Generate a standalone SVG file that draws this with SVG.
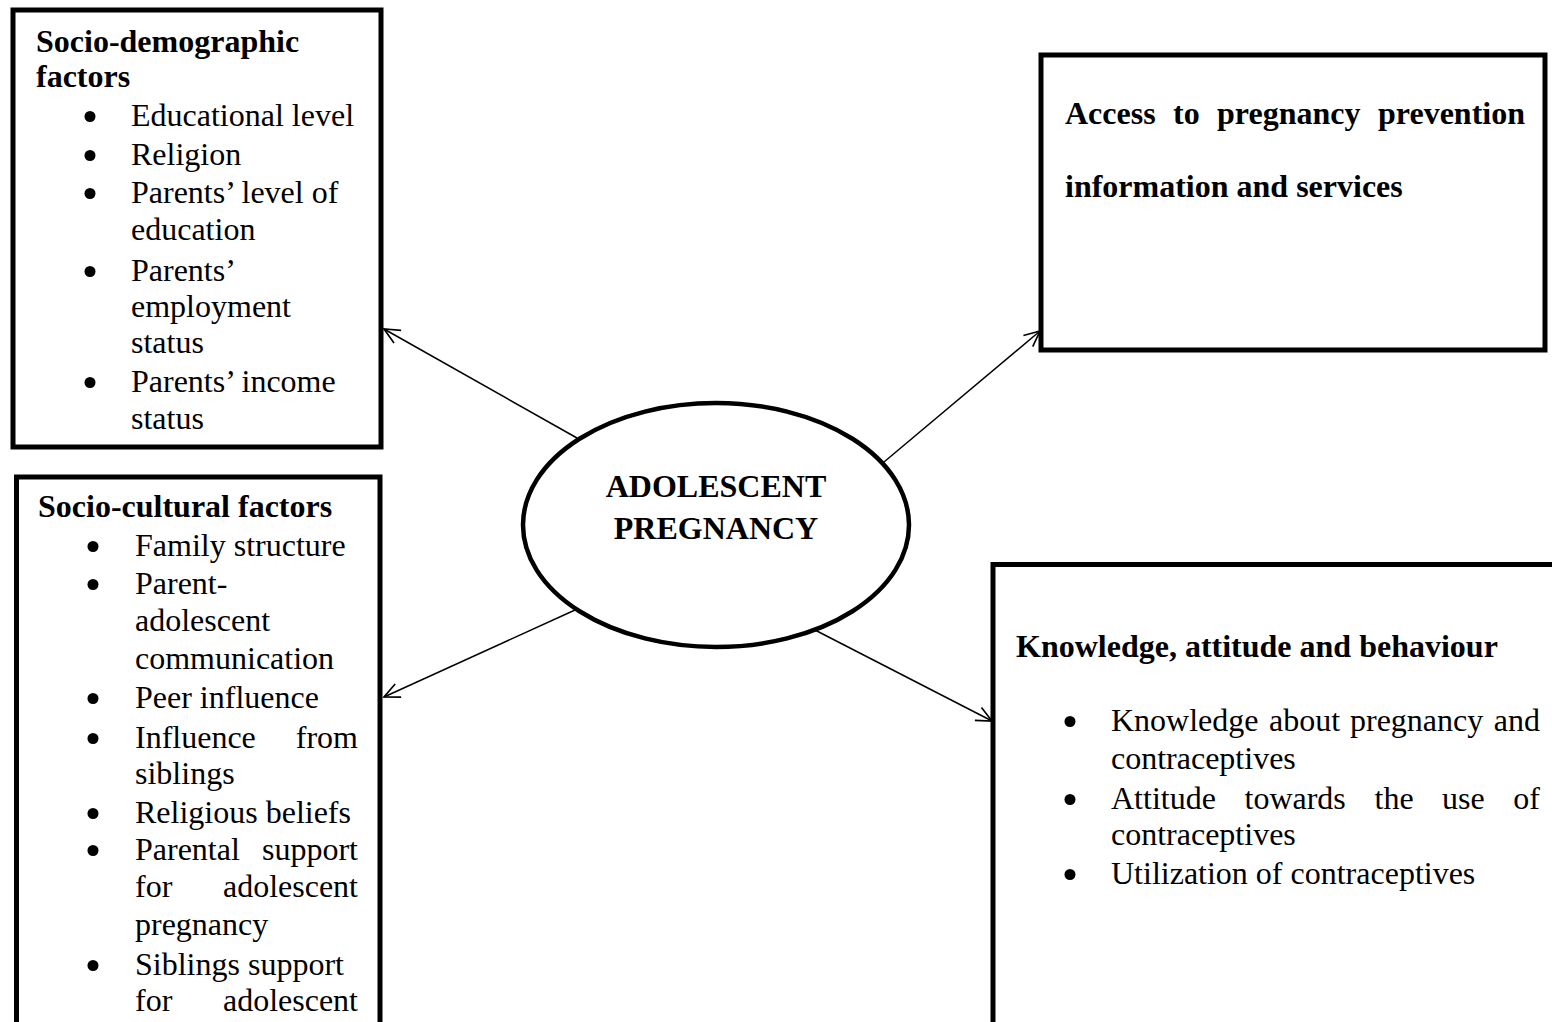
<svg xmlns="http://www.w3.org/2000/svg" width="1552" height="1022" viewBox="0 0 1552 1022">
  <style>
    .box { fill: #fff; stroke: #000; stroke-width: 5; }
    .t { font-family: "Liberation Serif", "Times New Roman", serif; font-size: 32px; fill: #000; }
    .b { font-weight: bold; }
    .e { text-anchor: end; }
    .m { text-anchor: middle; }
    .bu { fill: #000; }
    .conn { stroke: #000; stroke-width: 1.5; fill: none; }
  </style>
  <defs>
    <marker id="arr" markerUnits="userSpaceOnUse" markerWidth="20" markerHeight="20" refX="0" refY="0" viewBox="-16 -8 18 16" orient="auto">
      <path d="M -14 -6.5 L 0 0 L -14 6.5" fill="none" stroke="#000" stroke-width="1.5"/>
    </marker>
  </defs>
  <rect width="1552" height="1022" fill="#fff"/>

  <g id="connectors">
    <line class="conn" x1="577" y1="438" x2="384" y2="329" marker-end="url(#arr)"/>
    <line class="conn" x1="575" y1="610" x2="384" y2="697" marker-end="url(#arr)"/>
    <line class="conn" x1="884" y1="462" x2="1040" y2="331" marker-end="url(#arr)"/>
    <line class="conn" x1="813" y1="629" x2="992" y2="721" marker-end="url(#arr)"/>
  </g>

  <g id="socio-demographic">
    <rect class="box" x="13" y="10" width="368" height="437"/>
    <text class="t b" x="36" y="52">Socio-demographic</text>
    <text class="t b" x="36" y="87">factors</text>
    <circle class="bu" cx="90" cy="116.5" r="5.5"/>
    <text class="t" x="131" y="126">Educational level</text>
    <circle class="bu" cx="90" cy="155.5" r="5.5"/>
    <text class="t" x="131" y="165">Religion</text>
    <circle class="bu" cx="90" cy="193.5" r="5.5"/>
    <text class="t" x="131" y="203">Parents’ level of</text>
    <text class="t" x="131" y="240">education</text>
    <circle class="bu" cx="90" cy="271.5" r="5.5"/>
    <text class="t" x="131" y="281">Parents’</text>
    <text class="t" x="131" y="317">employment</text>
    <text class="t" x="131" y="353">status</text>
    <circle class="bu" cx="90" cy="382.5" r="5.5"/>
    <text class="t" x="131" y="392">Parents’ income</text>
    <text class="t" x="131" y="429">status</text>
  </g>

  <g id="socio-cultural">
    <rect class="box" x="16.5" y="477" width="363.5" height="560"/>
    <text class="t b" x="38" y="517">Socio-cultural factors</text>
    <circle class="bu" cx="93" cy="546.5" r="5.5"/>
    <text class="t" x="135" y="556">Family structure</text>
    <circle class="bu" cx="93" cy="584.5" r="5.5"/>
    <text class="t" x="135" y="594">Parent-</text>
    <text class="t" x="135" y="631">adolescent</text>
    <text class="t" x="135" y="669">communication</text>
    <circle class="bu" cx="93" cy="698.5" r="5.5"/>
    <text class="t" x="135" y="708">Peer influence</text>
    <circle class="bu" cx="93" cy="738.5" r="5.5"/>
    <text class="t" x="135" y="748">Influence</text>
    <text class="t e" x="358" y="748">from</text>
    <text class="t" x="135" y="784">siblings</text>
    <circle class="bu" cx="93" cy="813.5" r="5.5"/>
    <text class="t" x="135" y="823">Religious beliefs</text>
    <circle class="bu" cx="93" cy="850.5" r="5.5"/>
    <text class="t" x="135" y="860">Parental</text>
    <text class="t e" x="358" y="860">support</text>
    <text class="t" x="135" y="897">for</text>
    <text class="t e" x="358" y="897">adolescent</text>
    <text class="t" x="135" y="935">pregnancy</text>
    <circle class="bu" cx="93" cy="965.5" r="5.5"/>
    <text class="t" x="135" y="975">Siblings support</text>
    <text class="t" x="135" y="1011">for</text>
    <text class="t e" x="358" y="1011">adolescent</text>
  </g>

  <g id="access">
    <rect class="box" x="1041" y="55" width="504" height="295"/>
    <text class="t b" x="1065" y="124">Access</text>
    <text class="t b" x="1173" y="124">to</text>
    <text class="t b" x="1217" y="124">pregnancy</text>
    <text class="t b e" x="1525" y="124">prevention</text>
    <text class="t b" x="1065" y="197">information and services</text>
  </g>

  <g id="knowledge">
    <rect class="box" x="993" y="564.5" width="600" height="500"/>
    <text class="t b" x="1016" y="657">Knowledge, attitude and behaviour</text>
    <circle class="bu" cx="1070" cy="721.5" r="5.5"/>
    <text class="t" x="1111" y="731">Knowledge</text>
    <text class="t" x="1269" y="731">about</text>
    <text class="t" x="1350" y="731">pregnancy</text>
    <text class="t e" x="1540" y="731">and</text>
    <text class="t" x="1111" y="769">contraceptives</text>
    <circle class="bu" cx="1070" cy="799.5" r="5.5"/>
    <text class="t" x="1111" y="809">Attitude</text>
    <text class="t" x="1244.5" y="809">towards</text>
    <text class="t" x="1374.5" y="809">the</text>
    <text class="t" x="1442" y="809">use</text>
    <text class="t e" x="1540" y="809">of</text>
    <text class="t" x="1111" y="845">contraceptives</text>
    <circle class="bu" cx="1070" cy="874.5" r="5.5"/>
    <text class="t" x="1111" y="884">Utilization of contraceptives</text>
  </g>

  <g id="adolescent-pregnancy">
    <ellipse cx="716" cy="525" rx="193" ry="122" fill="#fff" stroke="#000" stroke-width="4.5"/>
    <text class="t b m" x="716" y="497">ADOLESCENT</text>
    <text class="t b m" x="716" y="539">PREGNANCY</text>
  </g>
</svg>
